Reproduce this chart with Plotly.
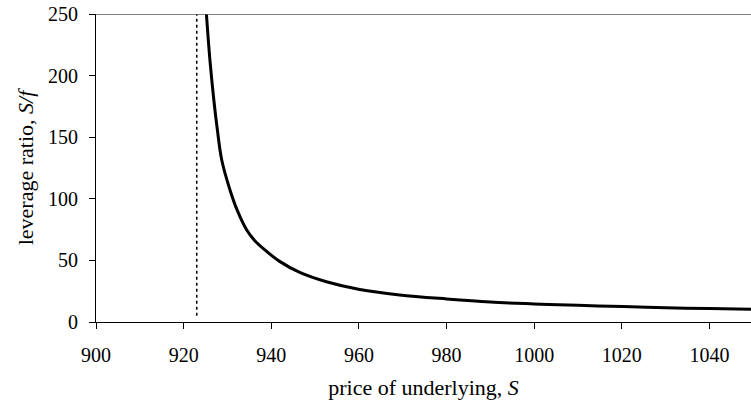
import plotly.graph_objects as go

# values
price = [925.2, 926.0, 926.9, 927.7, 928.7, 930.6, 932.2, 934.4, 936.2, 938.2,
         942.0, 946.5, 952.6, 960.2, 969.3, 980.0, 990.0, 1000.0,
         1010.0, 1020.3, 1030.0, 1040.0, 1049.5]
leverage = [250, 212.7, 180, 156, 131.5, 107, 91, 74.7, 66.2, 59.5,
            49, 40.3, 32.7, 26.4, 22.0, 18.7, 16.2, 14.7,
            13.5, 12.5, 11.6, 10.9, 10.3]

strike_price = 923.0
strike_span = [5, 250]

x_ticks = [900, 920, 940, 960, 980, 1000, 1020, 1040]
y_ticks = [0, 50, 100, 150, 200, 250]

FONT = "Liberation Serif"

fig = go.Figure()
fig.add_trace(go.Scatter(
    x=[strike_price, strike_price], y=strike_span, mode="lines",
    line=dict(color="black", width=1.5, dash="dot"), hoverinfo="skip"))
fig.add_trace(go.Scatter(
    x=price, y=leverage, mode="lines", line_shape="spline",
    line=dict(color="black", width=3)))

fig.update_layout(
    width=751, height=409,
    margin=dict(l=96, r=0, t=14, b=87),
    paper_bgcolor="white", plot_bgcolor="white",
    showlegend=False,
    font=dict(family=FONT, size=20, color="black"),
    xaxis=dict(
        range=[900, 1049.5], tickvals=x_ticks, ticks="outside", ticklen=6,
        tickcolor="black", showline=True, linecolor="black", linewidth=1,
        showgrid=False, zeroline=False, automargin=False,
        ticklabelstandoff=9,
        tickfont=dict(family=FONT, size=20),
        title=dict(text="price of underlying, <i>S</i>", standoff=14,
                   font=dict(family=FONT, size=22)),
    ),
    yaxis=dict(
        range=[0, 250], tickvals=y_ticks, ticks="outside", ticklen=6,
        tickcolor="black", showline=True, linecolor="black", linewidth=1,
        showgrid=False, zeroline=False, automargin=False,
        ticklabelstandoff=7,
        tickfont=dict(family=FONT, size=20),
        title=dict(text="leverage ratio, <i>S/f</i>", standoff=8,
                   font=dict(family=FONT, size=22)),
    ),
    shapes=[dict(type="line", xref="paper", yref="y", x0=0, x1=1, y0=250, y1=250,
                 line=dict(color="#555555", width=1.5))],
)

# remove the default 8px page margin so the figure sits at the window's corner
fig.write_html("out.html",
               config={"displayModeBar": False},
               post_script="document.body.style.margin='0px';")
